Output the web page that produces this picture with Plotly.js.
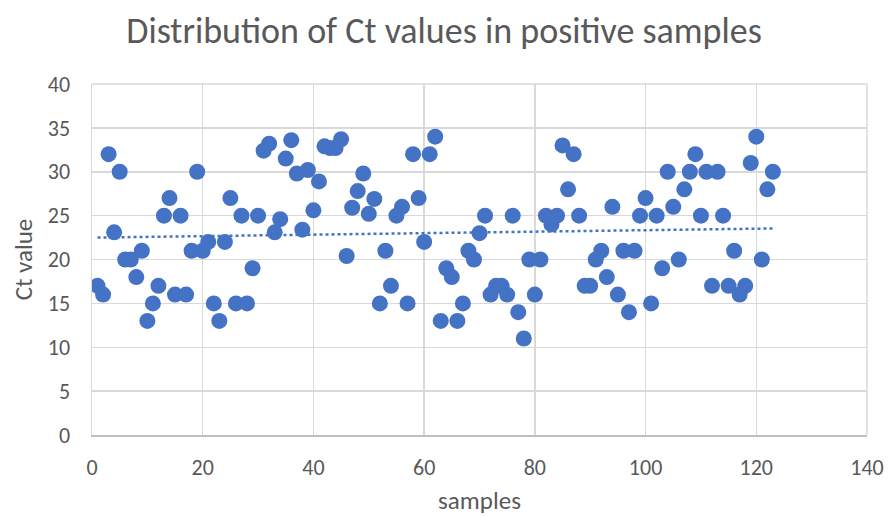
<!DOCTYPE html>
<html>
<head>
<meta charset="utf-8">
<script src="https://cdn.plot.ly/plotly-3.0.1.min.js"></script>
<style>html,body{margin:0;padding:0;background:#fff}#chart{width:888px;height:516px}</style>
</head>
<body>
<div id="chart"></div>
<script>
const samples = [];
for (let i = 1; i <= 123; i++) samples.push(i);
const ctValues = [
  17, 16, 32, 23.1, 30, 20, 20, 18, 21, 13,
  15, 17, 25, 27, 16, 25, 16, 21, 30, 21,
  22, 15, 13, 22, 27, 15, 25, 15, 19, 25,
  32.4, 33.2, 23.1, 24.6, 31.5, 33.6, 29.8, 23.4, 30.2, 25.6,
  28.9, 32.9, 32.7, 32.7, 33.7, 20.4, 25.9, 27.8, 29.8, 25.2,
  26.9, 15, 21, 17, 25, 26, 15, 32, 27, 22,
  32, 34, 13, 19, 18, 13, 15, 21, 20, 23,
  25, 16, 17, 17, 16, 25, 14, 11, 20, 16,
  20, 25, 24, 25, 33, 28, 32, 25, 17, 17,
  20, 21, 18, 26, 16, 21, 14, 21, 25, 27,
  15, 25, 19, 30, 26, 20, 28, 30, 32, 25,
  30, 17, 30, 25, 17, 21, 16, 17, 31, 34,
  20, 28, 30
];

// linear trendline from the data
const n = samples.length;
let sx = 0, sy = 0, sxx = 0, sxy = 0;
for (let i = 0; i < n; i++) { sx += samples[i]; sy += ctValues[i]; sxx += samples[i]*samples[i]; sxy += samples[i]*ctValues[i]; }
const slope = (n*sxy - sx*sy) / (n*sxx - sx*sx);
const intercept = (sy - slope*sx) / n;
const trendX = [samples[0], samples[n-1]];
const trendY = trendX.map(x => intercept + slope*x);

const blue = '#4472C4';
const grey = '#595959';
const font = 'Calibri, Carlito, "Open Sans", sans-serif';

Plotly.newPlot('chart', [
  { x: samples, y: ctValues, type: 'scatter', mode: 'markers',
    marker: { color: blue, size: 16, line: { width: 0 } }, hoverinfo: 'x+y' },
  { x: trendX, y: trendY, type: 'scatter', mode: 'lines',
    line: { color: blue, width: 2.5, dash: 'dot' }, hoverinfo: 'skip' }
], {
  width: 888, height: 516,
  showlegend: false,
  paper_bgcolor: '#fff', plot_bgcolor: '#fff',
  margin: { l: 92, r: 21, t: 84, b: 81 },
  font: { family: font, color: grey, size: 22 },
  title: { text: 'Distribution of Ct values in positive samples', x: 0.5, xanchor: 'center', y: 0.942, yanchor: 'middle',
           font: { family: font, size: 36, color: grey } },
  xaxis: {
    range: [0, 140], dtick: 20, tick0: 0,
    showgrid: true, gridcolor: '#d9d9d9', gridwidth: 1.5,
    zeroline: false, showline: true, linecolor: '#bfbfbf', linewidth: 1.5,
    ticks: '', tickfont: { size: 22, color: grey }, ticklabelstandoff: 12,
    title: { text: 'samples', font: { size: 25, color: grey }, standoff: 14 }
  },
  yaxis: {
    range: [0, 40], dtick: 5, tick0: 0,
    showgrid: true, gridcolor: '#d9d9d9', gridwidth: 1.5,
    zeroline: false, showline: true, linecolor: '#d9d9d9', linewidth: 1.5,
    ticks: '', tickfont: { size: 22, color: grey }, ticklabelstandoff: 16,
    title: { text: 'Ct value', font: { size: 25, color: grey }, standoff: 8 }
  },
  shapes: [
    { type: 'line', xref: 'paper', yref: 'paper', x0: 1, x1: 1, y0: 0, y1: 1, line: { color: '#d9d9d9', width: 1.5 } },
    { type: 'line', xref: 'paper', yref: 'paper', x0: 0, x1: 1, y0: 1, y1: 1, line: { color: '#d9d9d9', width: 1.5 } }
  ]
}, { displayModeBar: false, staticPlot: true });
</script>
</body>
</html>
